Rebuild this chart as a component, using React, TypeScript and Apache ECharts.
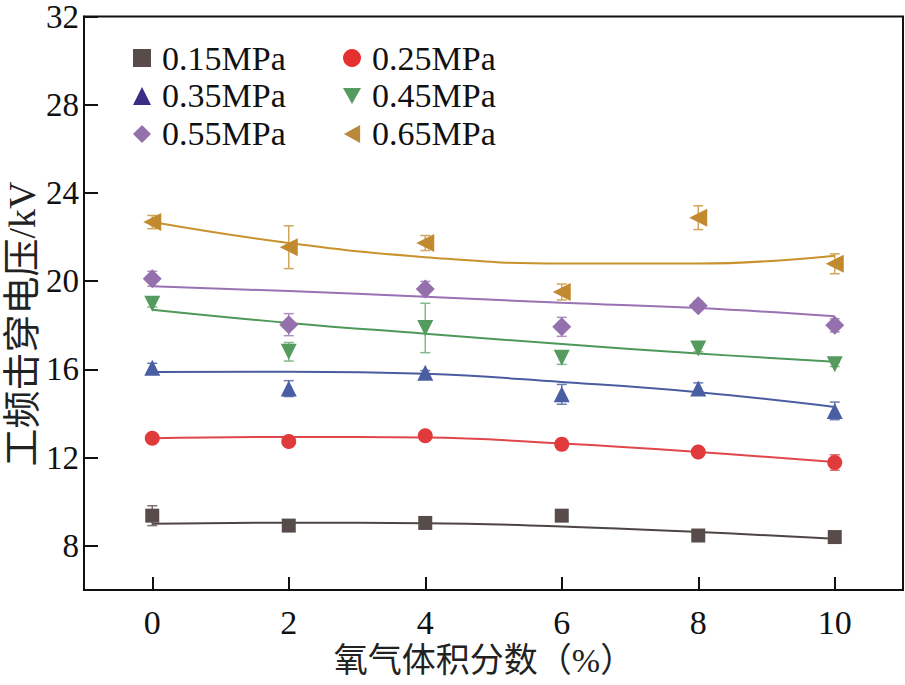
import React, { useEffect, useRef } from "react";
import * as echarts from "echarts";

const xValues = [0, 2, 4, 6, 8, 10];
const seriesNames = ["0.15MPa", "0.25MPa", "0.35MPa", "0.45MPa", "0.55MPa", "0.65MPa"];

const measured015 = [9.37, 8.92, 9.04, 9.37, 8.47, 8.4];
const measured025 = [12.88, 12.73, 12.99, 12.61, 12.26, 11.78];
const measured035 = [16.08, 15.13, 15.85, 14.87, 15.14, 14.12];
const measured045 = [18.98, 16.8, 17.88, 16.53, 16.95, 16.23];
const measured055 = [20.11, 18.03, 19.65, 17.93, 18.89, 18.0];
const measured065 = [22.68, 21.54, 21.73, 19.51, 22.88, 20.79];

const err015 = [0.45, 0.15, 0.15, 0.15, 0.15, 0.15];
const err025 = [0.15, 0.2, 0.15, 0.25, 0.15, 0.35];
const err035 = [0.2, 0.36, 0.1, 0.45, 0.25, 0.4];
const err045 = [0.15, 0.42, 1.12, 0.3, 0.15, 0.1];
const err055 = [0.34, 0.5, 0.34, 0.43, 0.2, 0.3];
const err065 = [0.3, 0.97, 0.34, 0.36, 0.54, 0.45];

const fit015 = [9.0, 9.05, 9.03, 8.88, 8.63, 8.32];
const fit025 = [12.88, 12.94, 12.91, 12.64, 12.26, 11.8];
const fit035 = [15.88, 15.9, 15.8, 15.43, 14.97, 14.3];
const fit045 = [18.71, 18.11, 17.62, 17.15, 16.72, 16.35];
const fit055 = [19.77, 19.55, 19.3, 19.02, 18.78, 18.41];
const fit065 = [22.68, 21.73, 21.09, 20.8, 20.8, 21.15];

const yTicks = [8, 12, 16, 20, 24, 28, 32];
const xTicks = [0, 2, 4, 6, 8, 10];

const measured = [measured015, measured025, measured035, measured045, measured055, measured065];
const errors = [err015, err025, err035, err045, err055, err065];
const fits = [fit015, fit025, fit035, fit045, fit055, fit065];

const markerColors = ["#574c4a", "#e03a3c", "#4a5fa3", "#559a5f", "#9470ad", "#c18a2e"];
const lineColors = ["#4d4544", "#e0474a", "#4a5ca0", "#4e985a", "#9a72b4", "#c8922c"];
const errColors = ["#7a6f6d", "#e06a6c", "#6a7cb3", "#86b88c", "#ad92c2", "#d1a75c"];
const symbols = ["rect", "circle", "triangle", "triangle", "diamond", "triangle"];
const symbolRotates = [0, 0, 0, 180, 0, 90];
const symbolSizes = [14, 15, 16, 16, 19, 18];
const legendColors = ["#574c4a", "#e53030", "#3b2d85", "#559a5f", "#9470ad", "#b98a3a"];
const legendIcons = [
  "rect",
  "circle",
  "triangle",
  "path://M0,0L10,0L5,9Z",
  "diamond",
  "path://M10,0L10,10L1,5Z",
];

const serifFont = "'Liberation Serif', 'Times New Roman', 'Noto Sans CJK SC', serif";

export default function App() {
  const ref = useRef<HTMLDivElement>(null);

  useEffect(() => {
    if (!ref.current) return;
    const chart = echarts.init(ref.current, undefined, { renderer: "svg" });

    const series: any[] = [];
    seriesNames.forEach((name, i) => {
      series.push({
        name: "err" + name,
        type: "custom",
        z: 1,
        data: xValues.map((x, j) => [x, measured[i][j], errors[i][j]]),
        renderItem: (params: any, api: any) => {
          const x = api.value(0);
          const y = api.value(1);
          const e = api.value(2);
          const top = api.coord([x, y + e]);
          const bot = api.coord([x, y - e]);
          const cap = 5;
          const style = { stroke: errColors[i], lineWidth: 1.5 };
          return {
            type: "group",
            children: [
              { type: "line", shape: { x1: top[0], y1: top[1], x2: bot[0], y2: bot[1] }, style },
              { type: "line", shape: { x1: top[0] - cap, y1: top[1], x2: top[0] + cap, y2: top[1] }, style },
              { type: "line", shape: { x1: bot[0] - cap, y1: bot[1], x2: bot[0] + cap, y2: bot[1] }, style },
            ],
          };
        },
        silent: true,
      });
      series.push({
        name: "fit" + name,
        type: "line",
        z: 2,
        smooth: 0.45,
        showSymbol: false,
        symbol: "none",
        data: xValues.map((x, j) => [x, fits[i][j]]),
        lineStyle: { color: lineColors[i], width: 2 },
        silent: true,
      });
      series.push({
        name,
        type: "scatter",
        z: 3,
        symbol: symbols[i],
        symbolRotate: symbolRotates[i],
        symbolSize: symbolSizes[i],
        data: xValues.map((x, j) => [x, measured[i][j]]),
        itemStyle: { color: markerColors[i], opacity: 1 },
      });
    });

    const legendCommon = {
      orient: "vertical",
      itemWidth: 18,
      itemHeight: 18,
      itemGap: 4,
      textStyle: { fontFamily: serifFont, fontSize: 34, color: "#111", padding: [0, 0, 0, 6] },
      selectedMode: false,
    };

    chart.setOption({
      animation: false,
      backgroundColor: "#fff",
      grid: {
        left: 84,
        top: 16,
        right: 2,
        bottom: 95,
        show: true,
        borderColor: "#111",
        borderWidth: 2,
        backgroundColor: "transparent",
      },
      legend: [
        {
          ...legendCommon,
          left: 128,
          top: 36,
          data: [0, 2, 4].map((i) => ({
            name: seriesNames[i],
            icon: legendIcons[i],
            itemStyle: { color: legendColors[i] },
          })),
        },
        {
          ...legendCommon,
          left: 338,
          top: 36,
          data: [1, 3, 5].map((i) => ({
            name: seriesNames[i],
            icon: legendIcons[i],
            itemStyle: { color: legendColors[i] },
          })),
        },
      ],
      xAxis: {
        type: "value",
        min: -1,
        max: 11,
        axisLine: { show: true, onZero: false, lineStyle: { color: "#111", width: 2 } },
        axisTick: { show: true, inside: true, length: 13, lineStyle: { color: "#111", width: 2 }, customValues: xTicks },
        axisLabel: { customValues: xTicks, fontFamily: serifFont, fontSize: 34, color: "#111", margin: 15 },
        splitLine: { show: false },
      },
      yAxis: {
        type: "value",
        min: 6,
        max: 32,
        axisLine: { show: true, onZero: false, lineStyle: { color: "#111", width: 2 } },
        axisTick: { show: true, inside: true, length: 14, lineStyle: { color: "#111", width: 2 }, customValues: yTicks },
        axisLabel: { customValues: yTicks, fontFamily: serifFont, fontSize: 33, color: "#111", margin: 5 },
        splitLine: { show: false },
      },
      graphic: [
        {
          type: "text",
          x: 22,
          y: 324,
          rotation: Math.PI / 2,
          style: {
            text: "工频击穿电压/kV",
            fontFamily: serifFont,
            fontSize: 38,
            fill: "#222",
            align: "center",
            verticalAlign: "middle",
          },
        },
        {
          type: "text",
          x: 484,
          y: 660,
          style: {
            text: "氧气体积分数（%）",
            fontFamily: serifFont,
            fontSize: 34,
            fill: "#222",
            align: "center",
            verticalAlign: "middle",
          },
        },
      ],
      series,
    });

    return () => chart.dispose();
  }, []);

  return <div ref={ref} style={{ width: 905, height: 685, position: "absolute", left: 0, top: 0 }} />;
}
